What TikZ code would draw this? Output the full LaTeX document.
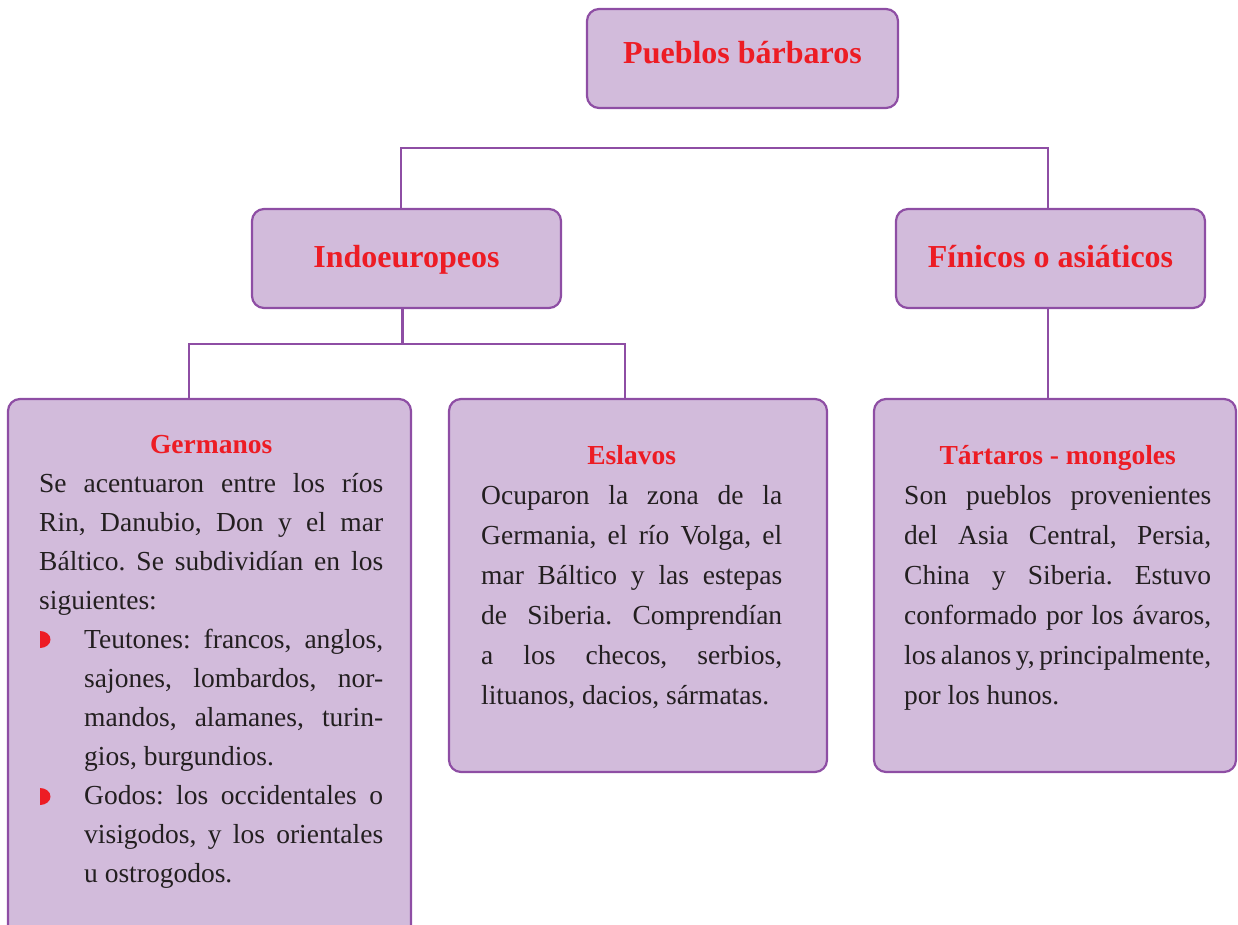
\documentclass[tikz,border=0pt]{standalone}
\usepackage{fontspec}
\setmainfont{Liberation Serif}
\frenchspacing
\definecolor{boxfill}{HTML}{D2BBDB}
\definecolor{boxline}{HTML}{8E4EA4}
\definecolor{titlered}{HTML}{ED1C24}
\definecolor{bodyink}{HTML}{231F20}
\newcommand{\jline}[2]{\makebox[#1][s]{#2}}
\newcommand{\heading}[1]{{\bfseries\color{titlered}#1}}

\begin{document}
\begin{tikzpicture}[x=1pt, y=-1pt,
  box/.style={draw=boxline, fill=boxfill, line width=2.2pt, rounded corners=12pt},
  link/.style={draw=boxline, line width=2.2pt},
  toptitle/.style={font=\fontsize{32}{38}\selectfont\bfseries, text=titlered,
    text height=24pt, text depth=7pt},
  bodytext/.style={inner sep=0pt, align=left, text=bodyink, anchor=base west}]

  \useasboundingbox (0,0) rectangle (1238,925);

  % Upper levels
  \node[box, toptitle, text depth=13pt, minimum width=311pt, minimum height=99pt] (top) at (742.5,58.5) {Pueblos bárbaros};
  \node[box, toptitle, minimum width=309pt, minimum height=99pt] (indo) at (406.5,258.5) {Indoeuropeos};
  \node[box, toptitle, minimum width=309pt, minimum height=99pt] (fin) at (1050.5,258.5) {Fínicos o asiáticos};

  % Lower boxes
  \node[box, minimum width=403pt, minimum height=561pt] (germ) at (209.5,679.5) {};
  \node[box, minimum width=378pt, minimum height=373pt] (esl) at (638,585.5) {};
  \node[box, minimum width=362pt, minimum height=373pt] (tart) at (1055,585.5) {};

  % Connectors
  \coordinate (tl) at (401,148);
  \coordinate (tr) at (1048,148);
  \coordinate (ib) at (402.5,344);
  \coordinate (gl) at (189,344);
  \coordinate (gr) at (625,344);
  \draw[link] (indo.north -| tl) -- (tl) -- (tr) -- (fin.north -| tr);
  \draw[link] (indo.south -| ib) -- (ib);
  \draw[link] (germ.north -| gl) -- (gl) -- (gr) -- (esl.north -| gr);
  \draw[link] (fin.south -| tr) -- (tart.north -| tr);

  % Germanos (base = last line)
  \node[bodytext, font=\fontsize{27.5}{39}\selectfont] (germtxt) at (39,882) {%
    \makebox[344pt]{\heading{Germanos}}\\
    \jline{344pt}{Se acentuaron entre los ríos}\\
    \jline{344pt}{Rin, Danubio, Don y el mar}\\
    \jline{344pt}{Báltico. Se subdividían en los}\\
    siguientes:\\
    \hspace*{45pt}\jline{299pt}{Teutones: francos, anglos,}\\
    \hspace*{45pt}\jline{299pt}{sajones, lombardos, nor-}\\
    \hspace*{45pt}\jline{299pt}{mandos, alamanes, turin-}\\
    \hspace*{45pt}gios, burgundios.\\
    \hspace*{45pt}\jline{299pt}{Godos: los occidentales o}\\
    \hspace*{45pt}\jline{299pt}{visigodos, y los orientales}\\
    \hspace*{45pt}u ostrogodos.};
  \fill[titlered] (40,631) arc[start angle=90, end angle=-90, x radius=10.5pt, y radius=8.5pt] -- cycle;
  \fill[titlered] (40,788) arc[start angle=90, end angle=-90, x radius=10.5pt, y radius=8.5pt] -- cycle;

  % Eslavos
  \node[bodytext, font=\fontsize{27.5}{40}\selectfont] (esltxt) at (481,704) {%
    \makebox[301pt]{\heading{Eslavos}}\\
    \jline{301pt}{Ocuparon la zona de la}\\
    \jline{301pt}{Germania, el río Volga, el}\\
    \jline{301pt}{mar Báltico y las estepas}\\
    \jline{301pt}{de Siberia. Comprendían}\\
    \jline{301pt}{a los checos, serbios,}\\
    lituanos, dacios, sármatas.};

  % Tartaros - mongoles
  \node[bodytext, font=\fontsize{27.5}{40}\selectfont] (tarttxt) at (904,704) {%
    \makebox[307pt]{\heading{Tártaros - mongoles}}\\
    \jline{307pt}{Son pueblos provenientes}\\
    \jline{307pt}{del Asia Central, Persia,}\\
    \jline{307pt}{China y Siberia. Estuvo}\\
    \jline{307pt}{conformado por los ávaros,}\\
    \jline{307pt}{los alanos y, principalmente,}\\
    por los hunos.};

\end{tikzpicture}
\end{document}
